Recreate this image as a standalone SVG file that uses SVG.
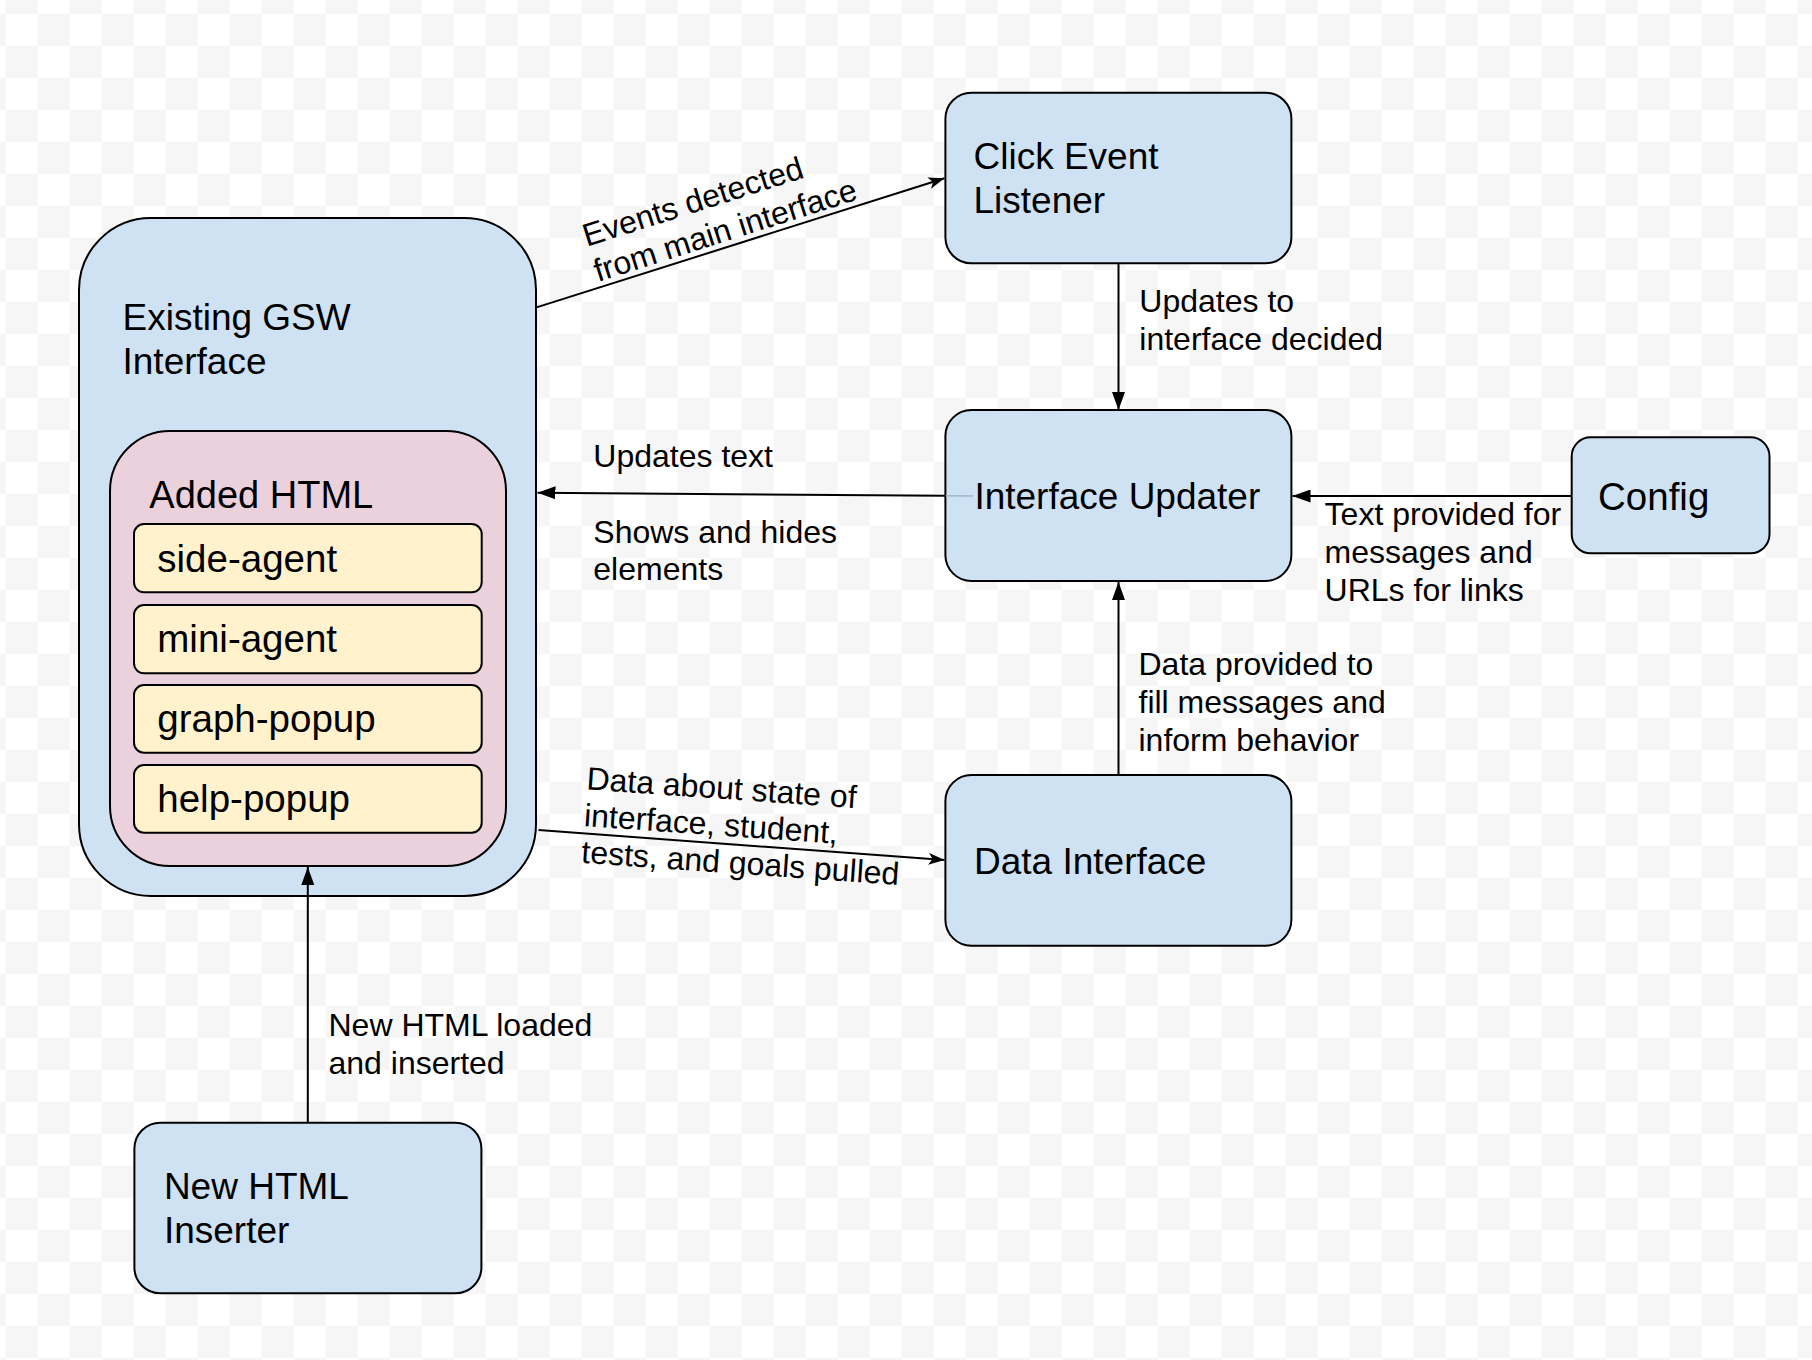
<svg xmlns="http://www.w3.org/2000/svg" width="1812" height="1360" viewBox="0 0 1812 1360">
<defs>
<pattern id="checker" x="5.7" y="14" width="64" height="64" patternUnits="userSpaceOnUse">
<rect x="0" y="0" width="64" height="64" fill="#ffffff"/>
<rect x="32" y="0" width="32" height="32" fill="#f6f6f6"/>
<rect x="0" y="32" width="32" height="32" fill="#f6f6f6"/>
</pattern>
<marker id="block" viewBox="0 0 18 13" refX="18" refY="6.5" markerWidth="18" markerHeight="13" markerUnits="userSpaceOnUse" orient="auto">
<path d="M0,0 L18,6.5 L0,13 Z" fill="#000"/>
</marker>
<marker id="classic" viewBox="0 0 16 12" refX="16" refY="6" markerWidth="16" markerHeight="12" markerUnits="userSpaceOnUse" orient="auto">
<path d="M0,0 L16,6 L0,12 L4,6 Z" fill="#000"/>
</marker>
</defs>
<style>
.box{stroke:#000;stroke-width:2}
.blue{fill:#cfe2f3}
.pink{fill:#ead1dc}
.yellow{fill:#fff2cc}
.nt{font-family:"Liberation Sans",Arial,sans-serif;font-size:37px;fill:#000}
.it{font-size:38.5px}
.lt{font-family:"Liberation Sans",Arial,sans-serif;font-size:32px;fill:#000}
.edge{stroke:#000;stroke-width:2;fill:none}
</style>
<rect x="0" y="0" width="1812" height="1360" fill="url(#checker)"/>

<g id="existing-gsw-interface">
<rect class="box blue" x="79" y="218" width="457" height="678" rx="72" ry="72"/>
<text class="nt" x="122.5" y="330" font-size="36.5">Existing GSW</text>
<text class="nt" x="122.5" y="374" font-size="36.5">Interface</text>
</g>
<g id="added-html">
<rect class="box pink" x="110" y="431" width="396" height="435" rx="60" ry="60"/>
<text class="nt" x="149.3" y="508.3" style="font-size:38px">Added HTML</text>
</g>
<g id="side-agent">
<rect class="box yellow" x="134" y="524" width="347.7" height="68.3" rx="10" ry="10"/>
<text class="nt it" x="157.3" y="571.7">side-agent</text>
</g>
<g id="mini-agent">
<rect class="box yellow" x="134" y="605" width="347.7" height="68.3" rx="10" ry="10"/>
<text class="nt it" x="157.3" y="652.3">mini-agent</text>
</g>
<g id="graph-popup">
<rect class="box yellow" x="134" y="685" width="347.7" height="67.7" rx="10" ry="10"/>
<text class="nt it" x="157.3" y="731.7">graph-popup</text>
</g>
<g id="help-popup">
<rect class="box yellow" x="134" y="765" width="347.7" height="67.7" rx="10" ry="10"/>
<text class="nt it" x="157.3" y="811.7">help-popup</text>
</g>

<g id="click-event-listener">
<rect class="box blue" x="945.4" y="92.7" width="346" height="170.6" rx="26" ry="26"/>
<text class="nt" x="973.5" y="169.3">Click Event</text>
<text class="nt" x="973.5" y="213.3">Listener</text>
</g>
<g id="interface-updater">
<rect class="box blue" x="945.4" y="410" width="346" height="171" rx="26" ry="26"/>
<text class="nt" x="974.4" y="509">Interface Updater</text>
</g>
<g id="config">
<rect class="box blue" x="1571.7" y="437.3" width="197.8" height="116" rx="19" ry="19"/>
<text class="nt" x="1598" y="509.5" style="font-size:38.5px">Config</text>
</g>
<g id="data-interface">
<rect class="box blue" x="945.4" y="775" width="346" height="170.7" rx="26" ry="26"/>
<text class="nt" x="974" y="874">Data Interface</text>
</g>
<g id="new-html-inserter">
<rect class="box blue" x="134.4" y="1122.7" width="347" height="170.6" rx="26" ry="26"/>
<text class="nt" x="163.9" y="1199.3">New HTML</text>
<text class="nt" x="163.9" y="1243.3">Inserter</text>
</g>

<g id="connectors">
<line class="edge" x1="536.5" y1="307.4" x2="944.5" y2="178.3" marker-end="url(#classic)"/>
<line class="edge" x1="1118.5" y1="263.3" x2="1118.5" y2="410" marker-end="url(#block)"/>
<line x1="945.4" y1="495.8" x2="973" y2="496" stroke="#9db6cc" stroke-width="1.5"/>
<line class="edge" x1="945.4" y1="495.8" x2="537.5" y2="492.7" marker-end="url(#block)"/>
<line class="edge" x1="1571.7" y1="496" x2="1292.5" y2="496" marker-end="url(#block)"/>
<line class="edge" x1="1118.5" y1="775" x2="1118.5" y2="582" marker-end="url(#block)"/>
<line class="edge" x1="538.5" y1="830" x2="944.5" y2="860" marker-end="url(#classic)"/>
<line class="edge" x1="307.8" y1="1122.7" x2="307.8" y2="867" marker-end="url(#block)"/>

<g transform="translate(586.7,246.7) rotate(-17.6)">
<text class="lt" x="0" y="0">Events detected</text>
<text class="lt" x="0" y="37">from main interface</text>
</g>
<text class="lt" x="1139.3" y="311.7">Updates to</text>
<text class="lt" x="1139.3" y="350">interface decided</text>
<text class="lt" x="593.3" y="467.3">Updates text</text>
<text class="lt" x="593.3" y="543.3">Shows and hides</text>
<text class="lt" x="593.3" y="580">elements</text>
<text class="lt" x="1324.6" y="525">Text provided for</text>
<text class="lt" x="1324.6" y="563">messages and</text>
<text class="lt" x="1324.6" y="600.5">URLs for links</text>
<text class="lt" x="1138.5" y="675">Data provided to</text>
<text class="lt" x="1138.5" y="713">fill messages and</text>
<text class="lt" x="1138.5" y="751">inform behavior</text>
<g transform="translate(586,789.3) rotate(4)">
<text class="lt" x="0" y="0">Data about state of</text>
<text class="lt" x="0" y="36.8">interface, student,</text>
<text class="lt" x="0" y="73.6">tests, and goals pulled</text>
</g>
<text class="lt" x="328.5" y="1036">New HTML loaded</text>
<text class="lt" x="328.5" y="1074.3">and inserted</text>
</g>
</svg>
